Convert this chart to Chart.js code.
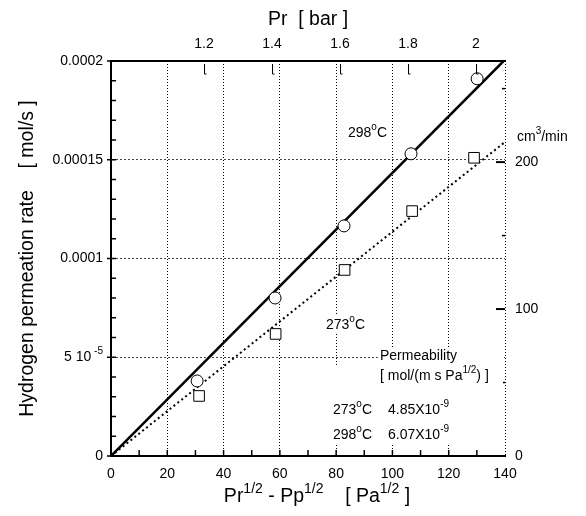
<!DOCTYPE html>
<html lang="en">
<head>
<meta charset="UTF-8">
<title>Hydrogen permeation rate</title>
<script src="https://cdn.jsdelivr.net/npm/chart.js"></script>
<style>
  body { margin: 0; background: #fff; }
</style>
</head>
<body>
<canvas id="chart" width="586" height="516"></canvas>
<script>
// values
const drive298 = [30.6, 58.3, 82.8, 106.6, 130.1];
const rate298 = [3.80e-5, 8.0e-5, 1.165e-4, 1.53e-4, 1.91e-4];
const drive273 = [31.3, 58.5, 83.0, 107.0, 129.0];
const rate273 = [3.04e-5, 6.18e-5, 9.42e-5, 1.24e-4, 1.51e-4];
const fitX = [0, 140];
const fit298 = [0, 2.007e-4];
const fit273 = [0, 1.59e-4];

const leftTicks = [0, 5e-5, 1e-4, 1.5e-4, 2e-4];
const leftLabels = ['0', '', '0.0001', '0.00015', '0.0002'];
const rightTicks = [0, 100, 200];
const topTicks = [1.2, 1.4, 1.6, 1.8, 2];

const FONT = "'Liberation Sans', Arial, sans-serif";
const TITLE_SIZE = 19.5;
const TICK_SIZE = 14;
const NOTE_SIZE = 14;
const MOLS_TO_CCMIN = 22400 * 60;

function richText(ctx, parts, x, y, align, size) {
  const base = size + 'px ' + FONT;
  const small = Math.round(size * 0.7) + 'px ' + FONT;
  let w = 0;
  for (const [t, sup] of parts) {
    ctx.font = sup ? small : base;
    w += ctx.measureText(t).width;
  }
  let cx = align === 'right' ? x - w : align === 'center' ? x - w / 2 : x;
  ctx.textAlign = 'left';
  ctx.textBaseline = 'middle';
  for (const [t, sup] of parts) {
    ctx.font = sup ? small : base;
    ctx.fillText(t, cx, sup ? y - size * 0.4 : y);
    cx += ctx.measureText(t).width;
  }
  return w;
}

function seg(ctx, x1, y1, x2, y2) {
  ctx.beginPath();
  ctx.moveTo(x1, y1);
  ctx.lineTo(x2, y2);
  ctx.stroke();
}

const decor = {
  id: 'decor',
  afterDraw(chart) {
    const { ctx, chartArea: a, scales } = chart;
    const x = scales.x, y = scales.y, yr = scales.yRight, xt = scales.xTop;
    ctx.save();
    ctx.strokeStyle = '#000';
    ctx.fillStyle = '#000';

    // bottom axis minor ticks
    ctx.lineWidth = 1.5;
    for (let v = 10; v < 140; v += 10) {
      const px = x.getPixelForValue(v);
      seg(ctx, px, a.bottom, px, a.bottom - 6);
    }
    // left axis minor ticks + outward major ticks
    for (let i = 1; i < 20; i++) {
      const py = y.getPixelForValue(i * 1e-5);
      seg(ctx, a.left, py, a.left + 5, py);
    }
    for (const v of leftTicks) {
      const py = y.getPixelForValue(v);
      seg(ctx, a.left - 4, py, a.left, py);
    }
    // right axis ticks
    ctx.lineWidth = 2;
    for (const v of rightTicks.slice(1)) {
      const py = yr.getPixelForValue(v);
      seg(ctx, a.right - 9, py, a.right, py);
    }
    ctx.lineWidth = 1.5;
    for (const v of [50, 150, 250]) {
      const py = yr.getPixelForValue(v);
      seg(ctx, a.right - 3, py, a.right, py);
    }
    // top axis ticks
    ctx.lineWidth = 1;
    for (const v of topTicks) {
      const px = Math.round(xt.getPixelForValue(v)) + 0.5;
      seg(ctx, px, a.top + 3, px, a.top + 13);
      seg(ctx, px, a.top + 13, px + 2, a.top + 13);
    }

    // left tick label with exponent
    richText(ctx, [['5 10', false], [' -5', true]], a.left - 8, y.getPixelForValue(5e-5), 'right', TICK_SIZE);

    // right unit
    richText(ctx, [['cm', false], ['3', true], ['/min', false]], a.right + 12, 137, 'left', TICK_SIZE);

    // curve labels
    richText(ctx, [['298', false], ['o', true], ['C', false]], 348, 133, 'left', NOTE_SIZE);
    ctx.fillStyle = '#fff';
    ctx.fillRect(324, 316, 48, 18);
    ctx.fillStyle = '#000';
    richText(ctx, [['273', false], ['o', true], ['C', false]], 326, 325, 'left', NOTE_SIZE);

    // permeability box
    ctx.fillStyle = '#fff';
    ctx.fillRect(378, 347, a.right - 380, 18);
    ctx.fillRect(330, 365, a.right - 332, 78);
    ctx.fillStyle = '#000';
    richText(ctx, [['Permeability', false]], 380, 356, 'left', NOTE_SIZE);
    richText(ctx, [['[ mol/(m s Pa', false], ['1/2', true], [') ]', false]], 380, 376, 'left', NOTE_SIZE);
    richText(ctx, [['273', false], ['o', true], ['C', false]], 333, 410, 'left', NOTE_SIZE);
    richText(ctx, [['4.85X10', false], ['-9', true]], 388, 410, 'left', NOTE_SIZE);
    richText(ctx, [['298', false], ['o', true], ['C', false]], 333, 435, 'left', NOTE_SIZE);
    richText(ctx, [['6.07X10', false], ['-9', true]], 388, 435, 'left', NOTE_SIZE);

    // bottom title
    richText(ctx, [['Pr', false], ['1/2', true], [' - Pp', false], ['1/2', true],
      ['    [ Pa', false], ['1/2', true], [' ]', false]], 317, 497, 'center', TITLE_SIZE);
    ctx.restore();
  }
};

const pts = (xs, ys) => xs.map((v, i) => ({ x: v, y: ys[i] }));

new Chart(document.getElementById('chart'), {
  type: 'scatter',
  data: {
    datasets: [
      {
        label: '298 C', data: pts(drive298, rate298), pointStyle: 'circle', pointRadius: 6,
        pointBackgroundColor: '#fff', pointBorderColor: '#000', pointBorderWidth: 1, xAxisID: 'x', yAxisID: 'y'
      },
      {
        label: '273 C', data: pts(drive273, rate273), pointStyle: 'rect', pointRadius: 7.5,
        pointBackgroundColor: '#fff', pointBorderColor: '#000', pointBorderWidth: 1, xAxisID: 'x', yAxisID: 'y'
      },
      {
        label: 'fit 298', data: pts(fitX, fit298), showLine: true, pointRadius: 0,
        borderColor: '#000', borderWidth: 2.5, xAxisID: 'x', yAxisID: 'y'
      },
      {
        label: 'fit 273', data: pts(fitX, fit273), showLine: true, pointRadius: 0,
        borderColor: '#000', borderWidth: 2, borderDash: [2, 3], xAxisID: 'x', yAxisID: 'y'
      }
    ]
  },
  options: {
    responsive: false,
    animation: false,
    layout: { padding: 0 },
    plugins: { legend: { display: false }, tooltip: { enabled: false } },
    scales: {
      x: {
        type: 'linear', position: 'bottom', min: 0, max: 140,
        ticks: { stepSize: 20, padding: 10, color: '#000', font: { family: FONT, size: TICK_SIZE } },
        grid: { color: '#000', lineWidth: 1, drawTicks: false },
        border: { color: '#000', width: 2, dash: [1, 2] },
        afterFit: s => { s.height = 60; }
      },
      xTop: {
        type: 'linear', position: 'top', min: 0.9265, max: 2.0853,
        afterBuildTicks: s => { s.ticks = topTicks.map(v => ({ value: v })); },
        ticks: { padding: 8, color: '#000', font: { family: FONT, size: TICK_SIZE }, callback: v => String(v) },
        grid: { display: false, drawTicks: false },
        border: { color: '#000', width: 2 },
        title: { display: true, text: 'Pr  [ bar ]', color: '#000', font: { family: FONT, size: TITLE_SIZE }, padding: { top: 8 } },
        afterFit: s => { s.height = 61; }
      },
      y: {
        type: 'linear', position: 'left', min: 0, max: 2e-4,
        afterBuildTicks: s => { s.ticks = leftTicks.map(v => ({ value: v })); },
        ticks: {
          padding: 8, color: '#000', font: { family: FONT, size: TICK_SIZE },
          callback: v => leftLabels[leftTicks.indexOf(v)] ?? ''
        },
        grid: { color: '#444', lineWidth: 1, drawTicks: false },
        border: { color: '#000', width: 2, dash: [2, 2] },
        title: {
          display: true, text: 'Hydrogen permeation rate    [ mol/s ]', color: '#000',
          font: { family: FONT, size: TITLE_SIZE }, padding: { top: 16 }
        },
        afterFit: s => { s.width = 111; }
      },
      yRight: {
        type: 'linear', position: 'right', min: 0, max: 2e-4 * MOLS_TO_CCMIN,
        afterBuildTicks: s => { s.ticks = rightTicks.map(v => ({ value: v })); },
        ticks: { padding: 10, color: '#000', font: { family: FONT, size: TICK_SIZE } },
        grid: { display: false, drawTicks: false },
        border: { display: false },
        afterFit: s => { s.width = 81; }
      }
    }
  },
  plugins: [decor]
});
</script>
</body>
</html>
